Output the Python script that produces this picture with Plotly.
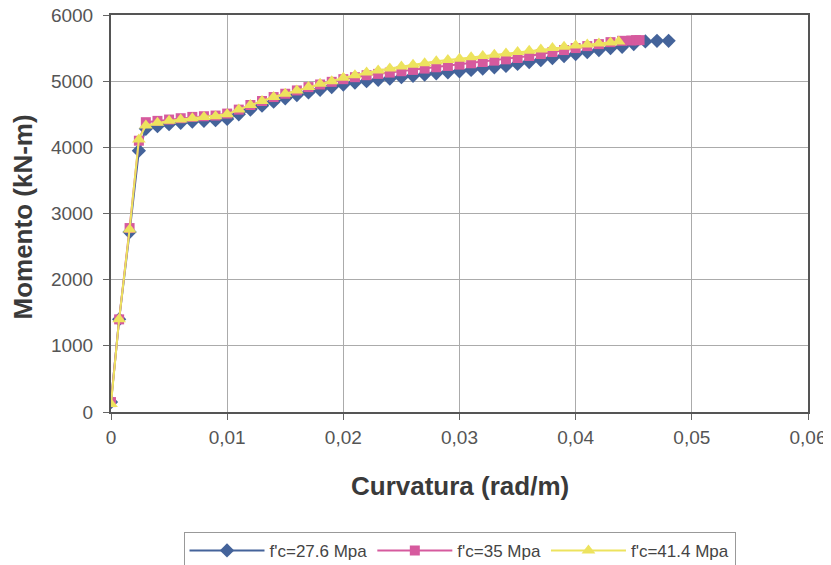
import plotly.graph_objects as go

# Curvature (rad/m) values
curv_start = [0.0, 0.0007, 0.0016, 0.0024]
curv_main = [0.003, 0.004, 0.005, 0.006, 0.007, 0.008, 0.009, 0.010, 0.011, 0.012,
             0.013, 0.014, 0.015, 0.016, 0.017, 0.018, 0.019, 0.020, 0.021, 0.022,
             0.023, 0.024, 0.025, 0.026, 0.027, 0.028, 0.029, 0.030, 0.031, 0.032,
             0.033, 0.034, 0.035, 0.036, 0.037, 0.038, 0.039, 0.040, 0.041, 0.042,
             0.043, 0.044, 0.045, 0.046, 0.047, 0.048]

curv_276 = curv_start + curv_main
mom_276 = [150, 1400, 2720, 3950,
           4280, 4320, 4350, 4370, 4390, 4400, 4410, 4430, 4500, 4570,
           4630, 4690, 4740, 4790, 4830, 4870, 4910, 4950, 4980, 5000,
           5020, 5040, 5060, 5080, 5100, 5120, 5135, 5150, 5170, 5190,
           5210, 5230, 5260, 5290, 5320, 5350, 5380, 5410, 5440, 5470,
           5500, 5520, 5560, 5600, 5610, 5610]

curv_35 = curv_start + curv_main[:42] + [0.0448, 0.0452, 0.0455]
mom_35 = [150, 1400, 2780, 4100,
          4380, 4400, 4420, 4440, 4460, 4470, 4480, 4510, 4570, 4640,
          4700, 4760, 4810, 4860, 4910, 4950, 4990, 5030, 5060, 5090,
          5110, 5130, 5150, 5170, 5190, 5210, 5230, 5250, 5270, 5290,
          5310, 5330, 5350, 5380, 5410, 5440, 5470, 5500, 5530, 5560,
          5590, 5610, 5615, 5620, 5620]

curv_414 = curv_start + curv_main[:41] + [0.0437]
mom_414 = [120, 1400, 2760, 4120,
           4330, 4370, 4400, 4420, 4440, 4460, 4470, 4500, 4570, 4640,
           4700, 4760, 4810, 4860, 4910, 4960, 5000, 5050, 5090, 5130,
           5160, 5190, 5220, 5250, 5270, 5300, 5320, 5340, 5360, 5380,
           5400, 5420, 5440, 5460, 5480, 5500, 5520, 5540, 5555, 5570,
           5585, 5600]

series_names = ["f'c=27.6 Mpa", "f'c=35 Mpa", "f'c=41.4 Mpa"]

x_tickvals = [0, 0.01, 0.02, 0.03, 0.04, 0.05, 0.06]
x_ticktext = ["0", "0,01", "0,02", "0,03", "0,04", "0,05", "0,06"]
y_tickvals = [0, 1000, 2000, 3000, 4000, 5000, 6000]
y_ticktext = ["0", "1000", "2000", "3000", "4000", "5000", "6000"]

x_title = "Curvatura (rad/m)"
y_title = "Momento (kN-m)"

fig = go.Figure()
fig.add_trace(go.Scatter(x=curv_276, y=mom_276, mode="lines+markers", name=series_names[0],
                         line=dict(color="#44639A", width=2),
                         marker=dict(symbol="diamond", size=11, color="#44639A")))
fig.add_trace(go.Scatter(x=curv_35, y=mom_35, mode="lines+markers", name=series_names[1],
                         line=dict(color="#D65A9E", width=2),
                         marker=dict(symbol="square", size=10, color="#D65A9E")))
fig.add_trace(go.Scatter(x=curv_414, y=mom_414, mode="lines+markers", name=series_names[2],
                         line=dict(color="#EDE35E", width=2),
                         marker=dict(symbol="triangle-up", size=12, color="#EDE35E")))

font_main = "Liberation Sans, Arial, sans-serif"
axis_common = dict(showgrid=True, gridcolor="#ABABAB", gridwidth=1,
                   showline=True, linecolor="#555555", linewidth=2, mirror=True,
                   ticks="outside", ticklen=6, tickcolor="#666666", zeroline=False,
                   automargin=False, ticklabeloverflow="allow",
                   tickfont=dict(size=19, color="#555555"))

# the page body adds ~7px offset; size the figure so it fits the 831x565 window
fig.update_layout(
    width=824, height=558,
    margin=dict(l=103, r=24, t=7, b=154, autoexpand=False),
    paper_bgcolor="white", plot_bgcolor="white",
    font=dict(family=font_main, size=19, color="#444444"),
    showlegend=True,
    legend=dict(orientation="h", x=0.5, xanchor="center", y=-0.302, yanchor="top",
                bordercolor="#999999", borderwidth=1, font=dict(size=17, color="#444444"),
                itemwidth=75, tracegroupgap=0),
    xaxis=dict(range=[0, 0.06], tickvals=x_tickvals, ticktext=x_ticktext,
               ticklabelstandoff=1, **axis_common),
    yaxis=dict(range=[0, 6000], tickvals=y_tickvals, ticktext=y_ticktext,
               ticklabelstandoff=6, **axis_common),
    annotations=[
        dict(text="<b>" + x_title + "</b>", xref="paper", yref="paper", x=0.5, y=0,
             xanchor="center", yanchor="middle", yshift=-74, showarrow=False,
             font=dict(size=26, color="#3a3a3a")),
        dict(text="<b>" + y_title + "</b>", xref="paper", yref="paper", x=0, y=0.5,
             xanchor="center", yanchor="middle", xshift=-89, yshift=-4, textangle=-90,
             showarrow=False, font=dict(size=26, color="#3a3a3a")),
    ],
)

fig.write_html("out.html")
